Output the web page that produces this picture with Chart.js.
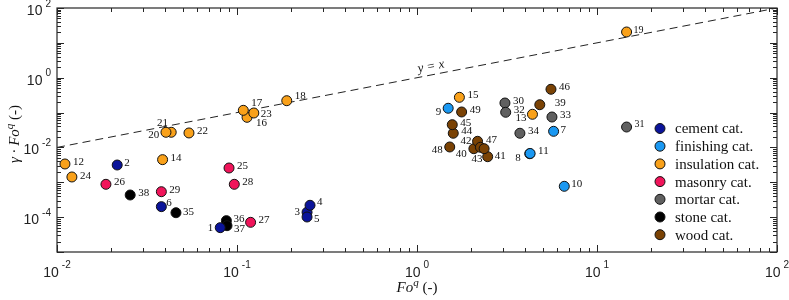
<!DOCTYPE html>
<html>
<head>
<meta charset="utf-8">
<script src="https://cdn.jsdelivr.net/npm/chart.js@4/dist/chart.umd.min.js"></script>
<style>
html,body{margin:0;padding:0;background:#fff;}
#wrap{width:789px;height:300px;}
</style>
</head>
<body>
<div id="wrap"><canvas id="c" width="789" height="300"></canvas></div>
<script>
// ---- data ----
const categories = ['cement cat.', 'finishing cat.', 'insulation cat.', 'masonry cat.', 'mortar cat.', 'stone cat.', 'wood cat.'];

const cementIds = [1, 2, 3, 4, 5, 6];
const cementX = [0.0807, 0.0216, 0.245, 0.2545, 0.245, 0.038];
const cementY = [4.99e-5, 3.13e-3, 1.38e-4, 2.19e-4, 1.01e-4, 2.0e-4];

const finishingIds = [7, 8, 9, 10, 11];
const finishingX = [5.74, 4.23, 1.49, 6.58, 4.25];
const finishingY = [0.029, 0.0066, 0.133, 7.67e-4, 0.0067];

const insulationIds = [12, 13, 14, 15, 16, 17, 18, 19, 20, 21, 22, 23, 24];
const insulationX = [0.01107, 4.38, 0.0386, 1.72, 0.1137, 0.1084, 0.189, 14.6, 0.0431, 0.0403, 0.0541, 0.124, 0.0121];
const insulationY = [0.00335, 0.0893, 0.00446, 0.274, 0.0731, 0.116, 0.219, 20.5, 0.0272, 0.0272, 0.026, 0.0973, 0.00142];

const masonryIds = [25, 26, 27, 28, 29];
const masonryX = [0.0903, 0.0187, 0.119, 0.0966, 0.038];
const masonryY = [0.00257, 8.75e-4, 7.1e-5, 8.75e-4, 5.37e-4];

const mortarIds = [30, 31, 32, 33, 34];
const mortarX = [3.08, 14.6, 3.11, 5.62, 3.73];
const mortarY = [0.188, 0.0385, 0.102, 0.0746, 0.0255];

const stoneIds = [35, 36, 37, 38];
const stoneX = [0.0458, 0.0873, 0.088, 0.0255];
const stoneY = [1.34e-4, 7.94e-5, 5.69e-5, 4.32e-4];

const woodIds = [39, 40, 41, 42, 43, 44, 45, 46, 47, 48, 49];
const woodX = [4.81, 2.07, 2.47, 2.17, 2.25, 1.59, 1.57, 5.55, 2.36, 1.52, 1.77];
const woodY = [0.168, 0.0092, 0.00542, 0.015, 0.0101, 0.0255, 0.0449, 0.466, 0.0092, 0.0103, 0.104];

const identityLineX = [0.01, 100];
const identityLineY = [0.01, 100];

const xTickExponents = [-2, -1, 0, 1, 2];
const yTickExponents = [-4, -2, 0, 2];

// ---- styles ----
const colors = ['#0b149a', '#1a98f2', '#f9a11a', '#f0145a', '#606060', '#000000', '#7a4204'];
const SERIF = '"Liberation Serif", "DejaVu Serif", serif';
const SANS = '"Liberation Sans", Arial, sans-serif';

// label placement: id -> [dx, dy, align]
const labelPlacement = {
  1: [-7, 0, 'r'], 2: [7, -2, 'l'], 3: [-7, 0, 'r'], 4: [7, -3, 'l'], 5: [7, 2, 'l'], 6: [5, -4, 'l'],
  7: [7, -1, 'l'], 8: [-9, 4, 'r'], 9: [-7, 4, 'r'], 10: [7, -2, 'l'], 11: [8, -2, 'l'],
  13: [-6, 4, 'r'], 16: [9, 6, 'l'], 17: [8, -7, 'l'], 18: [8, -5, 'l'], 19: [7, -2, 'l'],
  20: [-12, 3, 'r'], 21: [2, -9, 'r'], 23: [7, 1, 'l'], 24: [8, -1, 'l'], 31: [8, -3, 'l'],
  35: [7, -1, 'l'], 36: [7, -2, 'l'], 37: [7, 3, 'l'], 39: [15, -2, 'l'],
  40: [-7, 5, 'r'], 41: [7, -1, 'l'], 42: [-6, 0, 'r'], 43: [2, 12, 'r'], 47: [2, -9, 'l'], 48: [-7, 3, 'r']
};

function pts(xs, ys) { return xs.map((x, i) => ({ x: x, y: ys[i] })); }

const groups = [
  [cementIds, cementX, cementY], [finishingIds, finishingX, finishingY], [insulationIds, insulationX, insulationY],
  [masonryIds, masonryX, masonryY], [mortarIds, mortarX, mortarY], [stoneIds, stoneX, stoneY], [woodIds, woodX, woodY]
];

const datasets = groups.map((g, i) => ({
  label: categories[i],
  ids: g[0],
  data: pts(g[1], g[2]),
  backgroundColor: colors[i],
  borderColor: '#111',
  borderWidth: 1,
  pointRadius: 5,
  pointHoverRadius: 5,
  order: 0
}));
datasets.push({
  label: 'y = x',
  isLine: true,
  data: pts(identityLineX, identityLineY),
  showLine: true,
  borderColor: '#222',
  borderWidth: 1,
  borderDash: [8, 5],
  pointRadius: 0,
  fill: false,
  order: 1
});

const decorPlugin = {
  id: 'decor',
  afterDatasetsDraw(chart) {
    const ctx = chart.ctx;
    const xs = chart.scales.x, ys = chart.scales.y;
    const a = chart.chartArea;
    ctx.save();

    // point labels
    chart.data.datasets.forEach((ds, di) => {
      if (!ds.ids) return;
      const meta = chart.getDatasetMeta(di);
      ds.ids.forEach((id, k) => {
        const el = meta.data[k];
        const p = labelPlacement[id] || [8, -2, 'l'];
        ctx.font = ((id === 31 || id === 19) ? '10px ' : '11px ') + SERIF;
        ctx.fillStyle = '#111';
        ctx.textBaseline = 'middle';
        ctx.textAlign = p[2] === 'r' ? 'right' : 'left';
        ctx.fillText(String(id), el.x + p[0], el.y + p[1]);
      });
    });

    // y = x label
    const lx = xs.getPixelForValue(1.0), ly = ys.getPixelForValue(1.0);
    const angle = Math.atan2(ys.getPixelForValue(100) - ys.getPixelForValue(0.01), xs.getPixelForValue(100) - xs.getPixelForValue(0.01));
    ctx.save();
    ctx.translate(lx + 14, ly - 11);
    ctx.rotate(angle);
    ctx.font = 'italic 13px ' + SERIF;
    ctx.fillStyle = '#111';
    ctx.textAlign = 'center';
    ctx.textBaseline = 'middle';
    ctx.fillText('y = x', 0, 0);
    ctx.restore();

    // frame
    ctx.strokeStyle = '#262626';
    ctx.lineWidth = 1.2;
    ctx.strokeRect(a.left, a.top, a.right - a.left, a.bottom - a.top);

    // ticks
    ctx.lineWidth = 1;
    ctx.beginPath();
    for (let e = -2; e <= 2; e++) {
      for (let m = 1; m <= 9; m++) {
        const v = m * Math.pow(10, e);
        if (v > 100 + 1e-9) break;
        const px = Math.round(xs.getPixelForValue(v)) + 0.5;
        const len = m === 1 ? 7 : 4;
        ctx.moveTo(px, a.bottom); ctx.lineTo(px, a.bottom - len);
        ctx.moveTo(px, a.top); ctx.lineTo(px, a.top + len);
      }
    }
    for (let e = -5; e <= 2; e++) {
      for (let m = 1; m <= 9; m++) {
        const v = m * Math.pow(10, e);
        if (v > 100 + 1e-9) break;
        const py = Math.round(ys.getPixelForValue(v)) + 0.5;
        const len = m === 1 ? 7 : 4;
        ctx.moveTo(a.left, py); ctx.lineTo(a.left + len, py);
        ctx.moveTo(a.right, py); ctx.lineTo(a.right - len, py);
      }
    }
    ctx.stroke();

    // tick labels
    ctx.fillStyle = '#222';
    ctx.textBaseline = 'middle';
    xTickExponents.forEach(e => {
      const px = xs.getPixelForValue(Math.pow(10, e));
      ctx.font = '14px ' + SANS;
      const w1 = ctx.measureText('10').width;
      ctx.font = '10px ' + SANS;
      const sup = String(e);
      const w2 = ctx.measureText(sup).width;
      const total = w1 + 3 + w2;
      const x0 = px - total / 2;
      ctx.textAlign = 'left';
      ctx.font = '14px ' + SANS;
      ctx.fillText('10', x0, 273);
      ctx.font = '10px ' + SANS;
      ctx.fillText(sup, x0 + w1 + 3, 265);
    });
    yTickExponents.forEach(e => {
      const py = ys.getPixelForValue(Math.pow(10, e));
      const sup = String(e);
      ctx.font = '10px ' + SANS;
      const w2 = ctx.measureText(sup).width;
      const right = 51;
      ctx.textAlign = 'right';
      ctx.fillText(sup, right, py - 4);
      ctx.font = '14px ' + SANS;
      ctx.fillText('10', right - w2 - 3, py + 3);
    });

    // x axis title: Fo^q (-)
    ctx.fillStyle = '#111';
    ctx.textAlign = 'left';
    ctx.textBaseline = 'alphabetic';
    const cx = (a.left + a.right) / 2;
    const parts = [['Fo', 'italic 15px ' + SERIF, 0], ['q', 'italic 11px ' + SERIF, -6], [' (-)', '15px ' + SERIF, 0]];
    function drawParts(x, y) {
      let w = 0;
      parts.forEach(p => { ctx.font = p[1]; w += ctx.measureText(p[0]).width; });
      let xx = x - w / 2;
      parts.forEach(p => { ctx.font = p[1]; ctx.fillText(p[0], xx, y + p[2]); xx += ctx.measureText(p[0]).width; });
    }
    drawParts(cx, 292);

    // y axis title: γ · Fo^q (-)
    ctx.save();
    ctx.translate(19, (a.top + a.bottom) / 2 + 4);
    ctx.rotate(-Math.PI / 2);
    const yparts = [['\u03B3 \u00B7 ', 'italic 15px ' + SERIF, 0], ['Fo', 'italic 15px ' + SERIF, 0], ['q', 'italic 11px ' + SERIF, -6], [' (-)', '15px ' + SERIF, 0]];
    let w = 0;
    yparts.forEach(p => { ctx.font = p[1]; w += ctx.measureText(p[0]).width; });
    let xx = -w / 2;
    yparts.forEach(p => { ctx.font = p[1]; ctx.fillText(p[0], xx, p[2]); xx += ctx.measureText(p[0]).width; });
    ctx.restore();

    // legend
    chart.data.datasets.forEach((ds, di) => {
      if (!ds.ids) return;
      const ly2 = 128.5 + di * 17.7;
      ctx.beginPath();
      ctx.arc(660, ly2, 5, 0, Math.PI * 2);
      ctx.fillStyle = ds.backgroundColor;
      ctx.fill();
      ctx.lineWidth = 1;
      ctx.strokeStyle = '#111';
      ctx.stroke();
      ctx.fillStyle = '#111';
      ctx.font = '15px ' + SERIF;
      ctx.textAlign = 'left';
      ctx.textBaseline = 'middle';
      ctx.fillText(ds.label, 675, ly2 + 1);
    });

    ctx.restore();
  }
};

new Chart(document.getElementById('c'), {
  type: 'scatter',
  data: { datasets: datasets },
  options: {
    responsive: false,
    animation: false,
    devicePixelRatio: 1,
    layout: { padding: { left: 57, right: 12, top: 8, bottom: 48 } },
    plugins: { legend: { display: false }, tooltip: { enabled: false } },
    scales: {
      x: { type: 'logarithmic', min: 0.01, max: 100, display: false },
      y: { type: 'logarithmic', min: 1e-5, max: 100, display: false }
    }
  },
  plugins: [decorPlugin]
});
</script>
</body>
</html>
